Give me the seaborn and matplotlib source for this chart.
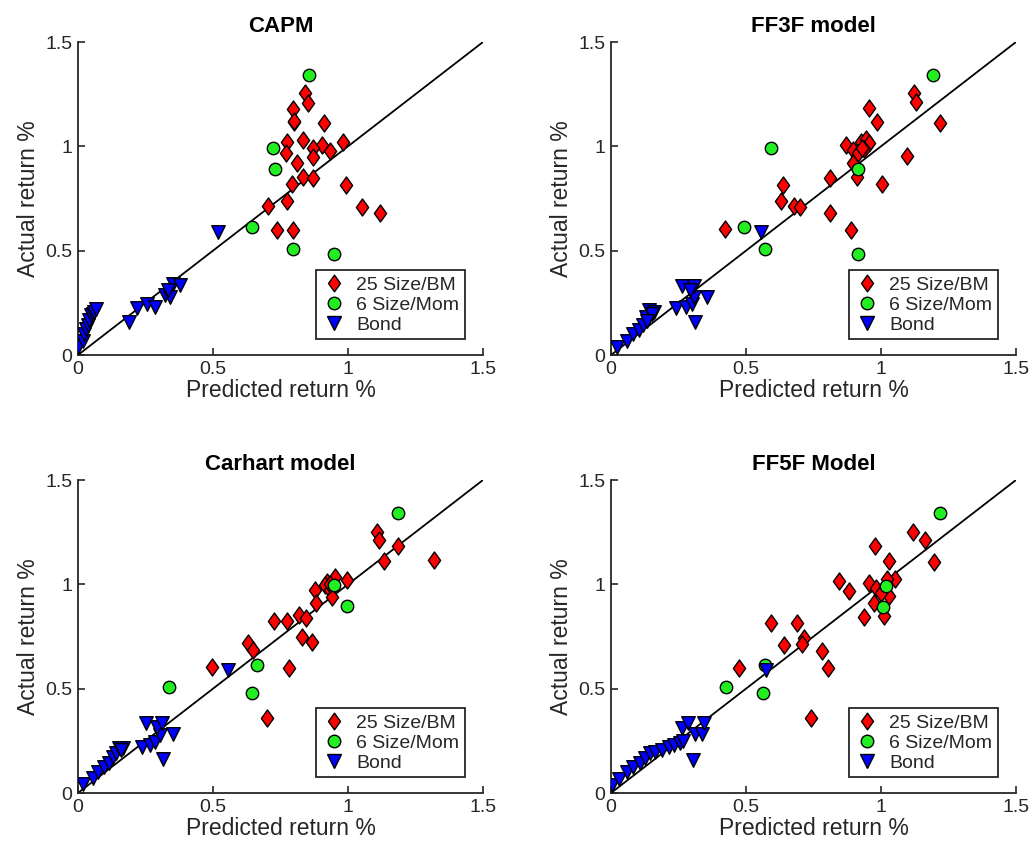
import numpy as np
import pandas as pd
import matplotlib
matplotlib.use("Agg")
import matplotlib.pyplot as plt
from matplotlib.lines import Line2D
from matplotlib.path import Path
import seaborn as sns

sns.set_theme(style="white")
plt.rcParams['font.family'] = ['Liberation Sans', 'DejaVu Sans']

# ---- CAPM ----
capm_bm_x = [0.841, 0.853, 0.797, 0.801, 0.910, 0.835, 0.773, 0.980, 0.902, 0.872, 0.933, 0.770,
             0.872, 0.810, 0.835, 0.869, 0.793, 0.993, 0.773, 0.704, 1.051, 1.119, 0.736, 0.797, 0.800]
capm_bm_y = [1.254, 1.210, 1.181, 1.118, 1.110, 1.030, 1.019, 1.022, 1.006, 0.990, 0.979, 0.966,
             0.950, 0.918, 0.854, 0.846, 0.819, 0.815, 0.738, 0.714, 0.711, 0.679, 0.599, 0.599, 1.120]
capm_mom_x = [0.857, 0.723, 0.730, 0.646, 0.797, 0.948]
capm_mom_y = [1.342, 0.990, 0.891, 0.612, 0.506, 0.482]
capm_bond_x = [0.001, 0.018, 0.024, 0.030, 0.036, 0.042, 0.048, 0.054, 0.060, 0.066,
               0.190, 0.217, 0.254, 0.285, 0.322, 0.341, 0.353, 0.378, 0.335, 0.520]
capm_bond_y = [0.038, 0.066, 0.102, 0.123, 0.145, 0.169, 0.190, 0.198, 0.206, 0.219,
               0.160, 0.224, 0.244, 0.231, 0.287, 0.279, 0.339, 0.335, 0.310, 0.591]

# ---- FF3F ----
ff3_bm_x = [1.121, 1.129, 0.957, 0.984, 1.220, 0.869, 0.925, 0.944, 0.956, 0.897, 0.937, 0.897,
            0.910, 1.095, 0.811, 1.002, 0.638, 0.628, 0.678, 0.700, 0.811, 0.424, 0.889, 0.915, 0.930]
ff3_bm_y = [1.254, 1.214, 1.185, 1.118, 1.110, 1.006, 1.022, 1.033, 1.017, 0.982, 0.985, 0.918,
            0.851, 0.953, 0.846, 0.819, 0.815, 0.738, 0.714, 0.708, 0.679, 0.602, 0.599, 0.966, 0.990]
ff3_mom_x = [1.194, 0.591, 0.916, 0.492, 0.570, 0.916]
ff3_mom_y = [1.342, 0.990, 0.891, 0.615, 0.506, 0.482]
ff3_bond_x = [0.021, 0.058, 0.081, 0.102, 0.118, 0.130, 0.142, 0.161, 0.150, 0.135,
              0.241, 0.279, 0.300, 0.306, 0.355, 0.263, 0.306, 0.291, 0.312, 0.556]
ff3_bond_y = [0.040, 0.069, 0.101, 0.120, 0.144, 0.184, 0.216, 0.205, 0.195, 0.165,
              0.224, 0.231, 0.244, 0.279, 0.279, 0.331, 0.331, 0.311, 0.160, 0.591]

# ---- Carhart ----
car_bm_x = [1.106, 1.115, 1.186, 1.133, 1.320, 0.952, 0.997, 0.921, 0.915, 0.878, 0.933, 0.940,
            0.881, 0.820, 0.844, 0.726, 0.773, 0.828, 0.866, 0.631, 0.649, 0.495, 0.783, 0.699, 0.935]
car_bm_y = [1.252, 1.212, 1.183, 1.113, 1.118, 1.034, 1.021, 1.013, 0.997, 0.973, 0.973, 0.941,
            0.912, 0.853, 0.841, 0.823, 0.826, 0.746, 0.722, 0.719, 0.687, 0.604, 0.601, 0.358, 1.000]
car_mom_x = [1.186, 0.948, 0.995, 0.662, 0.338, 0.644]
car_mom_y = [1.340, 0.996, 0.894, 0.613, 0.506, 0.481]
car_bond_x = [0.020, 0.057, 0.075, 0.096, 0.116, 0.128, 0.141, 0.153, 0.165, 0.236,
              0.267, 0.285, 0.304, 0.353, 0.252, 0.291, 0.310, 0.314, 0.554, 0.160]
car_bond_y = [0.042, 0.073, 0.102, 0.123, 0.145, 0.174, 0.193, 0.214, 0.214, 0.222,
              0.230, 0.246, 0.278, 0.281, 0.334, 0.315, 0.334, 0.161, 0.589, 0.205]

# ---- FF5F ----
ff5_bm_x = [1.118, 1.163, 0.977, 1.031, 1.197, 1.051, 1.024, 0.955, 0.980, 0.843, 0.881, 1.030,
            0.974, 0.937, 1.011, 0.594, 0.690, 0.714, 0.706, 0.642, 0.780, 0.475, 0.803, 0.739, 1.000]
ff5_bm_y = [1.249, 1.212, 1.183, 1.113, 1.108, 1.025, 1.025, 1.008, 0.981, 1.017, 0.969, 0.945,
            0.912, 0.845, 0.848, 0.816, 0.816, 0.741, 0.712, 0.709, 0.680, 0.600, 0.597, 0.358, 0.960]
ff5_mom_x = [1.218, 1.017, 1.009, 0.569, 0.427, 0.562]
ff5_mom_y = [1.340, 0.992, 0.890, 0.613, 0.506, 0.481]
ff5_bond_x = [0.003, 0.031, 0.058, 0.083, 0.108, 0.126, 0.145, 0.163, 0.188, 0.213,
              0.234, 0.254, 0.268, 0.262, 0.287, 0.312, 0.337, 0.343, 0.303, 0.574]
ff5_bond_y = [0.038, 0.066, 0.102, 0.123, 0.145, 0.169, 0.190, 0.198, 0.206, 0.219,
              0.230, 0.238, 0.251, 0.310, 0.334, 0.281, 0.281, 0.334, 0.158, 0.589]

titles = ["CAPM", "FF3F model", "Carhart model", "FF5F Model"]
panels = [
    (capm_bm_x, capm_bm_y, capm_mom_x, capm_mom_y, capm_bond_x, capm_bond_y),
    (ff3_bm_x, ff3_bm_y, ff3_mom_x, ff3_mom_y, ff3_bond_x, ff3_bond_y),
    (car_bm_x, car_bm_y, car_mom_x, car_mom_y, car_bond_x, car_bond_y),
    (ff5_bm_x, ff5_bm_y, ff5_mom_x, ff5_mom_y, ff5_bond_x, ff5_bond_y),
]
group_names = ["25 Size/BM", "6 Size/Mom", "Bond"]
group_colors = ["#ff0000", "#22ee22", "#0000ff"]

# MATLAB-style diamond: a bit narrower than tall
diamond = Path([(0, 1), (0.72, 0), (0, -1), (-0.72, 0), (0, 1)],
               [Path.MOVETO, Path.LINETO, Path.LINETO, Path.LINETO, Path.CLOSEPOLY])
group_markers = [diamond, "o", "v"]
group_sizes = [150, 80, 95]
legend_ms = [12, 9, 10]
ticks = [0, 0.5, 1, 1.5]
tick_labels = ["0", "0.5", "1", "1.5"]

W, H = 1033, 852
fig = plt.figure(figsize=(W / 100, H / 100), dpi=100)
boxes = [(78, 42), (611, 42), (78, 480), (611, 480)]
aw, ah = 405, 313

axis_col = "#262626"
for (px, py), title, data in zip(boxes, titles, panels):
    ax = fig.add_axes([px / W, 1 - (py + ah) / H, aw / W, ah / H])
    ax.plot([0, 1.5], [0, 1.5], color="black", lw=1.3, zorder=1)
    for g in range(3):
        df = pd.DataFrame({"pred": data[2 * g], "actual": data[2 * g + 1]})
        sns.scatterplot(data=df, x="pred", y="actual", ax=ax, marker=group_markers[g],
                        s=group_sizes[g], color=group_colors[g], edgecolor="black",
                        linewidth=1.0, zorder=3, legend=False)
    ax.set_xlim(0, 1.5)
    ax.set_ylim(0, 1.5)
    ax.set_xticks(ticks)
    ax.set_xticklabels(tick_labels)
    ax.set_yticks(ticks)
    ax.set_yticklabels(tick_labels)
    ax.tick_params(direction="in", length=5, width=1.2, colors=axis_col,
                   labelsize=14, pad=4, bottom=True, left=True)
    for s in ["top", "right"]:
        ax.spines[s].set_visible(False)
    for s in ["left", "bottom"]:
        ax.spines[s].set_color(axis_col)
        ax.spines[s].set_linewidth(1.3)
    ax.set_xlabel("Predicted return %", fontsize=16.5, color=axis_col, labelpad=1)
    ax.set_ylabel("Actual return %", fontsize=16.5, color=axis_col, labelpad=4)
    ax.set_title(title, fontsize=16, fontweight="bold", color="black", pad=7)
    handles = [Line2D([], [], ls="none", marker=group_markers[g], markersize=legend_ms[g],
                      markerfacecolor=group_colors[g], markeredgecolor="black",
                      markeredgewidth=1.0) for g in range(3)]
    leg = ax.legend(handles, group_names, loc="lower right", bbox_to_anchor=(0.955, 0.05),
                    fontsize=14, frameon=True, fancybox=False, handlelength=1.2,
                    handletextpad=0.55, borderpad=0.3, labelspacing=0.12, borderaxespad=0)
    leg.get_frame().set_edgecolor(axis_col)
    leg.get_frame().set_linewidth(1.3)
    leg.get_frame().set_alpha(1)

fig.savefig("out.png", dpi=100)
